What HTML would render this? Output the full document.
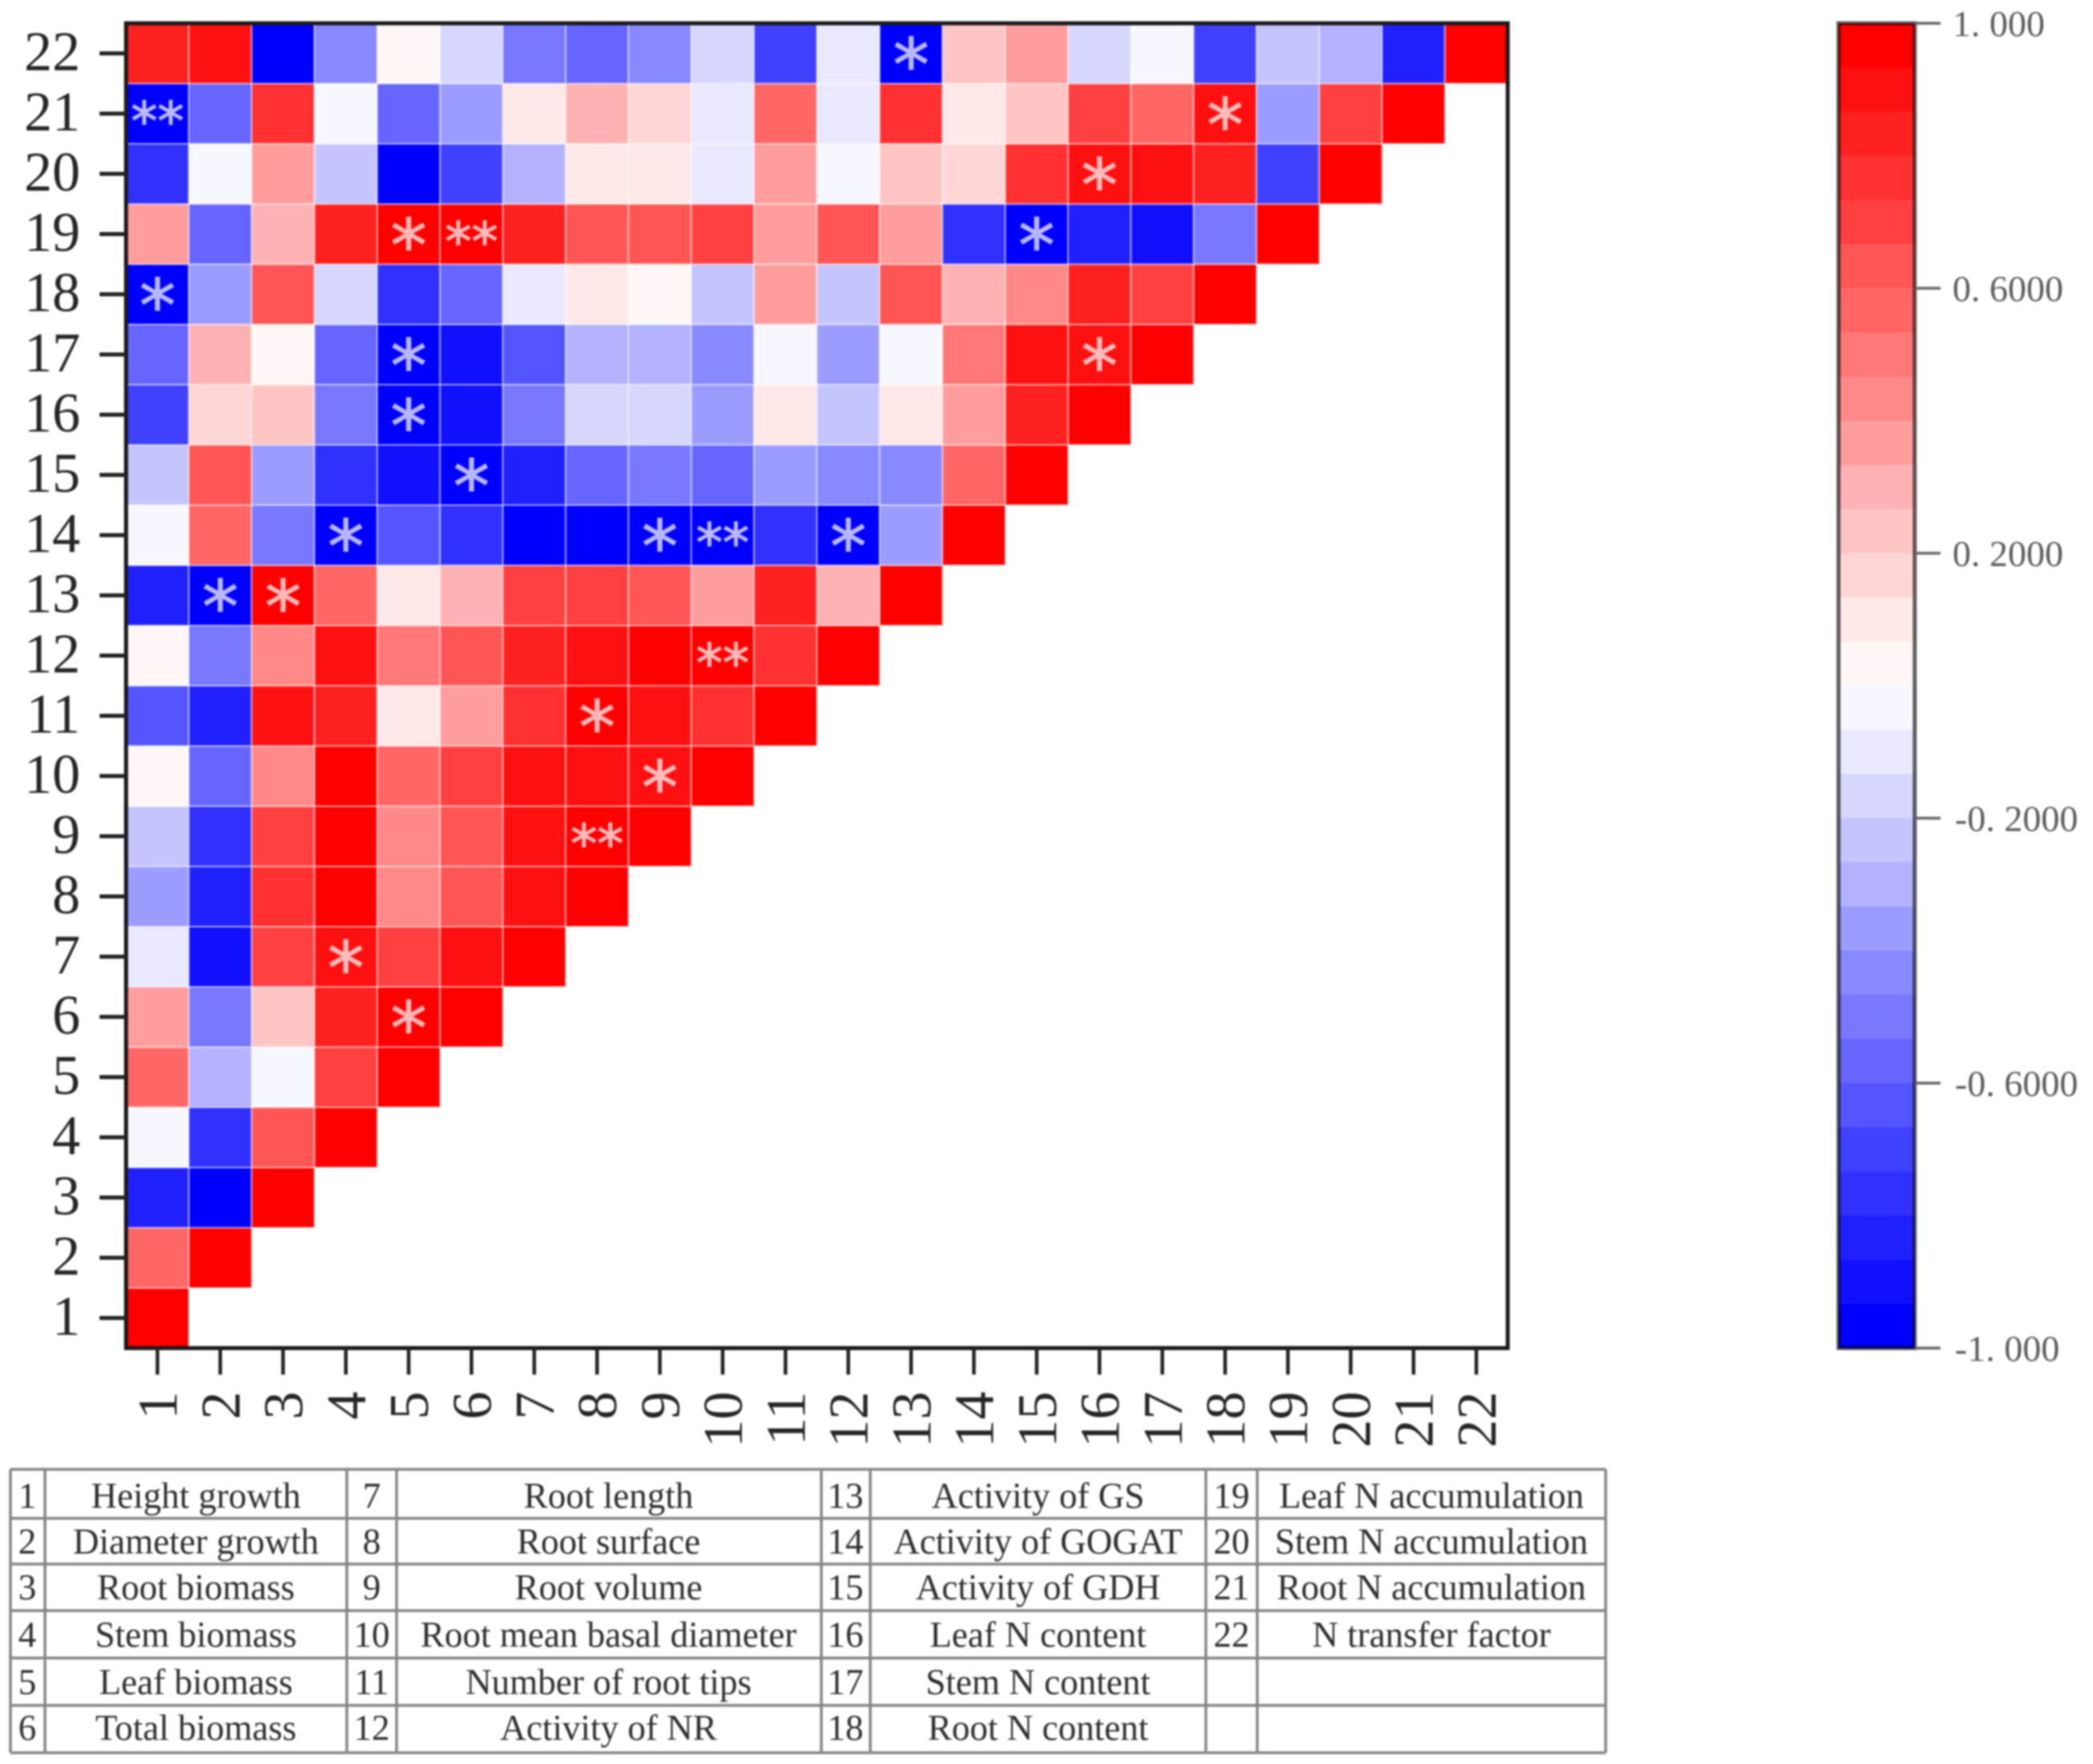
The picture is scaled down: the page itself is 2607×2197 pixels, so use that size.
<!DOCTYPE html>
<html lang="en">
<head>
<meta charset="utf-8">
<title>Correlation heatmap</title>
<style>
html,body{margin:0;padding:0;background:#fff;}
body{width:2607px;height:2197px;overflow:hidden;}
svg{display:block;filter:blur(1px);}
.tbl line{stroke:#858585;stroke-width:3.5;}
.tbl text{font-family:"Liberation Serif",serif;font-size:45px;fill:#2e2e2e;text-anchor:middle;}
</style>
</head>
<body>
<svg id="chart" xmlns="http://www.w3.org/2000/svg" width="2607" height="2197" viewBox="0 0 2607 2197">
  <rect x="0" y="0" width="2607" height="2197" fill="#ffffff"/>
  <g id="cells"></g>
  <g id="marks"></g>
  <rect x="157" y="29" width="1721" height="1650" fill="none" stroke="#1a1a1a" stroke-width="5"/>
  <g id="yAxis"></g>
  <g id="xAxis"></g>
  <g id="bar"></g>
  <g class="tbl">
    <line x1="13" y1="1830" x2="2000" y2="1830"/>
    <line x1="13" y1="1891" x2="2000" y2="1891"/>
    <line x1="13" y1="1948" x2="2000" y2="1948"/>
    <line x1="13" y1="2006" x2="2000" y2="2006"/>
    <line x1="13" y1="2065" x2="2000" y2="2065"/>
    <line x1="13" y1="2124" x2="2000" y2="2124"/>
    <line x1="13" y1="2183" x2="2000" y2="2183"/>
    <line x1="13" y1="1830" x2="13" y2="2183"/>
    <line x1="56" y1="1830" x2="56" y2="2183"/>
    <line x1="432" y1="1830" x2="432" y2="2183"/>
    <line x1="494" y1="1830" x2="494" y2="2183"/>
    <line x1="1023" y1="1830" x2="1023" y2="2183"/>
    <line x1="1084" y1="1830" x2="1084" y2="2183"/>
    <line x1="1502" y1="1830" x2="1502" y2="2183"/>
    <line x1="1566" y1="1830" x2="1566" y2="2183"/>
    <line x1="2000" y1="1830" x2="2000" y2="2183"/>

    <text x="34" y="1878">1</text>
    <text x="244" y="1878">Height growth</text>
    <text x="34" y="1935">2</text>
    <text x="244" y="1935">Diameter growth</text>
    <text x="34" y="1992">3</text>
    <text x="244" y="1992">Root biomass</text>
    <text x="34" y="2051">4</text>
    <text x="244" y="2051">Stem biomass</text>
    <text x="34" y="2110">5</text>
    <text x="244" y="2110">Leaf biomass</text>
    <text x="34" y="2167">6</text>
    <text x="244" y="2167">Total biomass</text>

    <text x="463" y="1878">7</text>
    <text x="758" y="1878">Root length</text>
    <text x="463" y="1935">8</text>
    <text x="758" y="1935">Root surface</text>
    <text x="463" y="1992">9</text>
    <text x="758" y="1992">Root volume</text>
    <text x="463" y="2051">10</text>
    <text x="758" y="2051">Root mean basal diameter</text>
    <text x="463" y="2110">11</text>
    <text x="758" y="2110">Number of root tips</text>
    <text x="463" y="2167">12</text>
    <text x="758" y="2167">Activity of NR</text>

    <text x="1053" y="1878">13</text>
    <text x="1293" y="1878">Activity of GS</text>
    <text x="1053" y="1935">14</text>
    <text x="1293" y="1935">Activity of GOGAT</text>
    <text x="1053" y="1992">15</text>
    <text x="1293" y="1992">Activity of GDH</text>
    <text x="1053" y="2051">16</text>
    <text x="1293" y="2051">Leaf N content</text>
    <text x="1053" y="2110">17</text>
    <text x="1293" y="2110">Stem N content</text>
    <text x="1053" y="2167">18</text>
    <text x="1293" y="2167">Root N content</text>

    <text x="1534" y="1878">19</text>
    <text x="1783" y="1878">Leaf N accumulation</text>
    <text x="1534" y="1935">20</text>
    <text x="1783" y="1935">Stem N accumulation</text>
    <text x="1534" y="1992">21</text>
    <text x="1783" y="1992">Root N accumulation</text>
    <text x="1534" y="2051">22</text>
    <text x="1783" y="2051">N transfer factor</text>
  </g>
</svg>
<script>
const categories = ["1","2","3","4","5","6","7","8","9","10","11","12","13","14","15","16","17","18","19","20","21","22"];

const row1 = [0.97];
const row2 = [0.57,0.97];
const row3 = [-0.83,-0.97,0.97];
const row4 = [-0.03,-0.77,0.63,0.97];
const row5 = [0.57,-0.3,-0.03,0.7,0.97];
const row6 = [0.37,-0.5,0.23,0.83,0.97,0.97];
const row7 = [-0.1,-0.9,0.7,0.9,0.7,0.9,0.97];
const row8 = [-0.37,-0.83,0.77,0.97,0.43,0.63,0.9,0.97];
const row9 = [-0.23,-0.77,0.7,0.97,0.43,0.63,0.9,0.97,0.97];
const row10 = [0.03,-0.57,0.43,0.97,0.57,0.7,0.9,0.9,0.9,0.97];
const row11 = [-0.63,-0.83,0.9,0.83,0.1,0.37,0.77,0.97,0.9,0.77,0.97];
const row12 = [0.03,-0.5,0.43,0.9,0.5,0.63,0.83,0.9,0.97,0.97,0.77,0.97];
const row13 = [-0.83,-0.97,0.97,0.57,0.1,0.3,0.7,0.7,0.63,0.37,0.83,0.3,0.97];
const row14 = [-0.03,0.57,-0.5,-0.97,-0.63,-0.77,-0.97,-0.97,-0.97,-0.97,-0.77,-0.97,-0.37,0.97];
const row15 = [-0.23,0.63,-0.37,-0.77,-0.9,-0.97,-0.83,-0.57,-0.5,-0.57,-0.37,-0.43,-0.43,0.57,0.97];
const row16 = [-0.7,0.17,0.23,-0.5,-0.97,-0.9,-0.5,-0.17,-0.17,-0.37,0.1,-0.23,0.1,0.37,0.83,0.97];
const row17 = [-0.57,0.3,0.03,-0.57,-0.97,-0.9,-0.63,-0.3,-0.3,-0.43,-0.03,-0.37,-0.03,0.5,0.9,0.9,0.97];
const row18 = [-0.97,-0.37,0.63,-0.17,-0.77,-0.57,-0.1,0.1,0.03,-0.23,0.37,-0.23,0.63,0.3,0.43,0.83,0.7,0.97];
const row19 = [0.37,-0.57,0.3,0.83,0.97,0.97,0.83,0.63,0.63,0.7,0.37,0.63,0.37,-0.77,-0.97,-0.83,-0.9,-0.5,0.97];
const row20 = [-0.77,-0.03,0.37,-0.23,-0.97,-0.7,-0.3,0.1,0.1,-0.1,0.37,-0.03,0.23,0.17,0.77,0.9,0.9,0.83,-0.7,0.97];
const row21 = [-0.97,-0.57,0.77,-0.03,-0.57,-0.37,0.1,0.3,0.17,-0.1,0.57,-0.1,0.77,0.1,0.23,0.7,0.57,0.9,-0.37,0.7,0.97];
const row22 = [0.83,0.9,-0.97,-0.43,0.03,-0.17,-0.5,-0.57,-0.43,-0.17,-0.7,-0.1,-0.97,0.23,0.37,-0.17,-0.03,-0.7,-0.23,-0.3,-0.83,0.97];

const significance = [
  ["13","22","*"],["1","21","**"],["18","21","*"],["16","20","*"],
  ["5","19","*"],["6","19","**"],["15","19","*"],["1","18","*"],
  ["5","17","*"],["16","17","*"],["5","16","*"],["6","15","*"],
  ["4","14","*"],["9","14","*"],["10","14","**"],["12","14","*"],
  ["2","13","*"],["3","13","*"],["10","12","**"],["8","11","*"],
  ["9","10","*"],["8","9","**"],["4","7","*"],["5","6","*"]
];

const colorBarTicks = [1,0.6,0.2,-0.2,-0.6,-1];
const colorBarTickLabels = ["1. 000","0. 6000","0. 2000","-0. 2000","-0. 6000","-1. 000"];
const colormap = ["#ff0000","#ff1010","#ff2020","#ff3030","#ff4040","#ff5555","#ff6666","#ff7777","#ff8888","#ff9c9c","#ffb2b2","#ffc4c4","#ffd6d6","#ffe8e8","#fff7f5","#f7f7ff","#e8e8ff","#d6d6ff","#c4c4ff","#b2b2ff","#9c9cff","#8888ff","#7777ff","#6666ff","#5555ff","#4040ff","#3030ff","#2020ff","#1010ff","#0000ff"];

const rows = [row1,row2,row3,row4,row5,row6,row7,row8,row9,row10,row11,row12,row13,row14,row15,row16,row17,row18,row19,row20,row21,row22];

const SVGNS = "http://www.w3.org/2000/svg";
const plot = {left:157,right:1878,top:29,bottom:1679};
const bar = {left:2290,right:2385,top:29,bottom:1679};
const cellW = (plot.right-plot.left)/categories.length;
const cellH = (plot.bottom-plot.top)/categories.length;
const xBand = c => plot.left + categories.indexOf(c)*cellW;
const yBand = r => plot.bottom - (categories.indexOf(r)+1)*cellH;
const yBar = v => bar.top + (1-v)/2*(bar.bottom-bar.top);
const colorOf = v => colormap[Math.min(colormap.length-1,Math.max(0,Math.floor((1-v)/2*colormap.length)))];

function create(tag,parent,props){
  const el = document.createElementNS(SVGNS,tag);
  for(const k in props){ el.setAttribute(k,props[k]); }
  parent.appendChild(el);
  return el;
}

const cellsG = document.getElementById("cells");
rows.forEach((vals,ri)=>{
  const rowCat = categories[ri];
  vals.forEach((v,ci)=>{
    const colCat = categories[ci];
    const r = create("rect",cellsG,{x:xBand(colCat),y:yBand(rowCat),width:cellW,height:cellH,fill:colorOf(v),stroke:"#ffffff","stroke-opacity":"0.45","stroke-width":"2"});
    
    
  });
});

const marksG = document.getElementById("marks");
significance.forEach(m=>{
  const single = m[2]==="*";
  const size = single ? 90 : 66;
  const t = create("text",marksG,{x:xBand(m[0])+cellW/2,y:yBand(m[1])+cellH/2+size*0.52-(single?1:2),"font-family":"'DejaVu Sans',sans-serif","font-size":size,"text-anchor":"middle",fill:"#ffffff","fill-opacity":"0.7",stroke:"#ffffff","stroke-opacity":"0.5","stroke-width":"1.5"});
  t.textContent = m[2];
  
  
});

const yG = document.getElementById("yAxis");
const xG = document.getElementById("xAxis");
categories.forEach(c=>{
  const cy = yBand(c)+cellH/2;
  const yt = create("line",yG,{x1:124,x2:157,y1:cy,y2:cy,stroke:"#222222","stroke-width":"5"});
  
  
  const yl = create("text",yG,{x:100,y:cy+21,"font-family":"'Liberation Serif',serif","font-size":"70","text-anchor":"end",fill:"#262626"});
  yl.textContent = c;
  
  

  const cx = xBand(c)+cellW/2;
  const xt = create("line",xG,{x1:cx,x2:cx,y1:plot.bottom,y2:1712,stroke:"#222222","stroke-width":"4.5"});
  
  
  const xl = create("text",xG,{x:cx+24,y:1733,transform:"rotate(-90 "+(cx+24)+" 1733)","font-family":"'Liberation Serif',serif","font-size":"70","text-anchor":"end",fill:"#262626"});
  xl.textContent = c;
  
  
});

const barG = document.getElementById("bar");
colormap.forEach((col,i)=>{
  const hi = 1-2*i/colormap.length;
  const lo = 1-2*(i+1)/colormap.length;
  const s = create("rect",barG,{x:bar.left,y:yBar(hi),width:bar.right-bar.left,height:yBar(lo)-yBar(hi)+0.5,fill:col});
  
  
});
const barFrame = create("rect",barG,{x:bar.left,y:bar.top,width:bar.right-bar.left,height:bar.bottom-bar.top,fill:"none",stroke:"#000000","stroke-opacity":"0.62","stroke-width":"5"});


colorBarTicks.forEach((v,i)=>{
  const y = yBar(v);
  const t = create("line",barG,{x1:bar.right,x2:2417,y1:y,y2:y,stroke:"#666666","stroke-width":"3.5"});
  
  
  const l = create("text",barG,{x:v<0?2435:2432,y:y+16,"font-family":"'Liberation Serif',serif","font-size":"46",fill:"#5c5c5c"});
  l.textContent = colorBarTickLabels[i];
  
  
});
</script>
</body>
</html>
